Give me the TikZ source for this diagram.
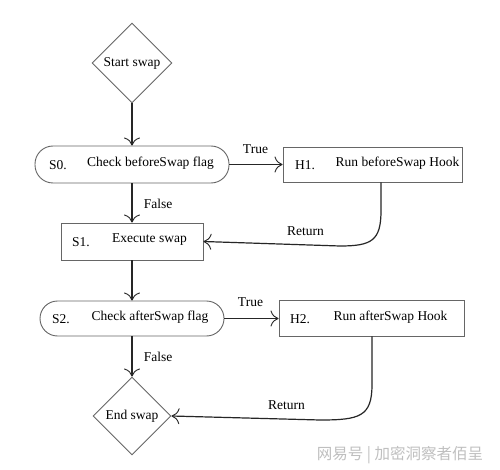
\documentclass[tikz,border=0pt]{standalone}
\usepackage{fontspec}
\setmainfont{Liberation Serif}
\newfontfamily\cjk{Noto Sans CJK SC}
\usetikzlibrary{shapes.geometric,arrows.meta}
\begin{document}
\begin{tikzpicture}[x=1pt,y=-1pt,
  font=\fontsize{13.5}{15}\selectfont,
  boxst/.style={draw=black!60,line width=0.9pt,inner sep=0pt},
  dia/.style={boxst,diamond,minimum width=#1,minimum height=#1,aspect=1},
  arr/.style={draw=black!85,line width=1.2pt,-{Computer Modern Rightarrow[length=8pt,width=16pt,line width=0.9pt]}},
  lbl/.style={inner sep=0pt,anchor=center}]
\useasboundingbox (0,0) rectangle (500,470);
\fill[white] (0,0) rectangle (500,470);

% nodes
\node[dia=80pt] (start) at (132,63) {Start swap};
\node[boxst,rounded corners=18pt,minimum width=194pt,minimum height=37pt] (s0) at (132,164.5) {};
\node[boxst,minimum width=142pt,minimum height=37pt] (s1) at (132,241.5) {};
\node[boxst,minimum width=179pt,minimum height=35pt] (h1) at (372.5,164.5) {};
\node[boxst,rounded corners=17.5pt,minimum width=184pt,minimum height=35pt] (s2) at (132,318.5) {};
\node[boxst,minimum width=185pt,minimum height=36pt] (h2) at (371.5,318) {};
\node[dia=78pt] (end) at (132,416) {End swap};

% texts inside boxes
\node[lbl,anchor=west] (s0n) at (49,165) {S0.};
\node[lbl] (s0t) at (150.5,163) {Check beforeSwap flag};
\node[lbl,anchor=west] (s1n) at (72,242) {S1.};
\node[lbl] (s1t) at (149.5,240) {Execute swap};
\node[lbl,anchor=west] (h1n) at (295,165) {H1.};
\node[lbl] (h1t) at (397.5,163) {Run beforeSwap Hook};
\node[lbl,anchor=west] (s2n) at (52,319) {S2.};
\node[lbl] (s2t) at (150,317) {Check afterSwap flag};
\node[lbl,anchor=west] (h2n) at (290,319) {H2.};
\node[lbl] (h2t) at (390.5,317) {Run afterSwap Hook};

% connectors
\draw[arr] (start.south) -- (s0.north);
\draw[arr] (s0.east) -- (h1.west);
\draw[arr] (s0.south) -- (s1.north);
\draw[arr] (s1.south) -- (s2.north);
\draw[arr] (s2.east) -- (h2.west |- s2.east);
\draw[arr] (s2.south) -- (end.north);
\draw[arr] ([xshift=8.5pt]h1.south) -- ++(0,28) .. controls +(0,30) and (372,246) .. (340,246) -- (s1.east);
\draw[arr] ([xshift=0.5pt]h2.south) -- ++(0,48) .. controls +(0,32) and (360,420) .. (320,420) -- (end.east);

% edge labels
\node[lbl] (t1) at (255.5,149) {True};
\node[lbl] (f1) at (158,204) {False};
\node[lbl] (r1) at (305.5,231) {Return};
\node[lbl] (t2) at (250.5,302) {True};
\node[lbl] (f2) at (158,357) {False};
\node[lbl] (r2) at (286.5,405) {Return};

% watermark
\node[lbl,text=black!25,font=\cjk\fontsize{15.5}{17}\selectfont] (wm) at (400,455) {网易号 | 加密洞察者佰呈};
\end{tikzpicture}
\end{document}
